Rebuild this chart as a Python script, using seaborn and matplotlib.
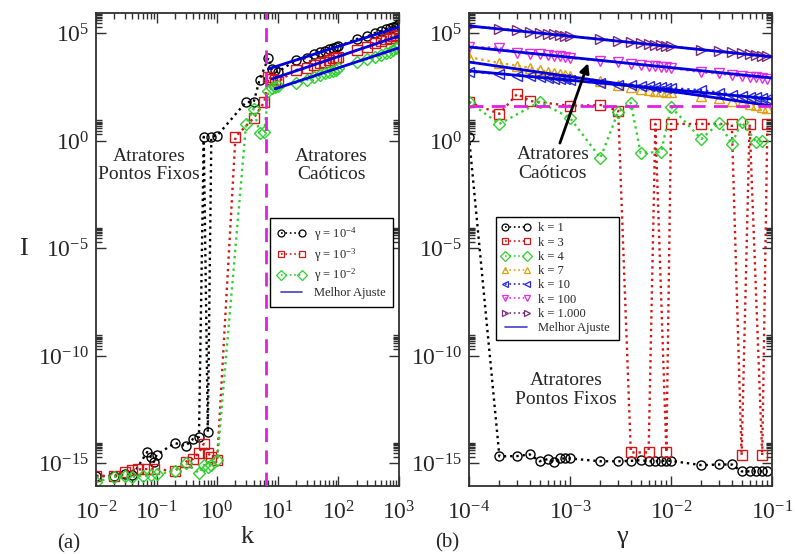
import numpy as np
import pandas as pd
import matplotlib
matplotlib.use("Agg")
import matplotlib.pyplot as plt
from matplotlib.ticker import FixedLocator, FuncFormatter, LogLocator, NullFormatter
from matplotlib.lines import Line2D
import seaborn as sns

sns.set_theme(style="ticks")
plt.rcParams["font.family"] = ["Liberation Serif", "DejaVu Serif"]
plt.rcParams["mathtext.fontset"] = "custom"
plt.rcParams["mathtext.rm"] = "Liberation Serif"
plt.rcParams["mathtext.it"] = "Liberation Serif:italic"
plt.rcParams["mathtext.bf"] = "Liberation Serif:bold"

# ---------------- panel (a): I versus k, values given as log10(I) ----------------
k_g4 = [0.01, 0.02, 0.03, 0.04, 0.07, 0.08, 0.09, 0.1, 0.2, 0.3, 0.4, 0.5, 0.6, 0.7,
        0.8, 1.0, 3, 4, 5, 7, 8, 9, 10, 20, 30, 40, 50, 60, 70, 80, 90, 100,
        200, 300, 400, 500, 600, 700, 800, 900, 1000]
logI_g4 = [-15.58, -15.6, -15.5, -15.55, -14.47, -14.7, -14.93, -14.6, -14.05, -14.19,
           -13.86, -13.77, 0.19, -13.55, 0.19, 0.25, 1.81, 1.81, 2.84, 3.86, 3.35, 3.30,
           3.2, 3.77, 3.86, 4.02, 4.12, 4.20, 4.28, 4.32, 4.36, 4.40,
           4.74, 4.86, 5.02, 5.10, 5.20, 5.26, 5.30, 5.36, 5.45]

k_g3 = [0.01, 0.02, 0.03, 0.04, 0.05, 0.07, 0.09, 0.2, 0.3, 0.4, 0.5, 0.6, 0.7, 0.8,
        1.0, 2, 4, 6, 7, 8, 9, 10, 20, 30, 40, 50, 60, 70, 80, 90, 100,
        200, 300, 400, 500, 600, 700, 800, 900, 1000]
logI_g3 = [-15.58, -15.58, -15.4, -15.3, -15.28, -15.26, -15.26, -15.35, -14.93, -14.79,
           -14.51, -14.09, -14.51, -14.7, -14.84, 0.19, 1.07, 1.81, 2.98, 2.88, 2.84,
           2.75, 3.30, 3.40, 3.53, 3.62, 3.67, 3.77, 3.84, 3.88, 3.91,
           4.23, 4.37, 4.56, 4.66, 4.72, 4.80, 4.86, 4.92, 5.00]

k_g2 = [0.01, 0.02, 0.03, 0.04, 0.06, 0.08, 0.1, 0.2, 0.3, 0.5, 0.6, 0.7, 0.8, 1.0,
        3, 4, 5, 6, 7, 8, 9, 10, 20, 30, 40, 50, 60, 70, 80, 90, 100,
        200, 300, 400, 500, 600, 700, 800, 900, 1000]
logI_g2 = [-15.86, -15.63, -15.58, -15.62, -15.58, -15.55, -15.5, -15.35, -14.98, -15.44,
           -15.07, -15.16, -15.07, -14.84, 0.8, 1.5, 0.37, 0.42, 2.32, 2.45, 2.50,
           2.55, 2.70, 2.84, 2.98, 3.07, 3.15, 3.21, 3.27, 3.32, 3.40,
           3.67, 3.80, 3.91, 4.00, 4.09, 4.15, 4.23, 4.30, 4.42]

# best-fit segments for panel (a): [k_start, k_end], [log10 I_start, log10 I_end]
fit_k_a = [[7, 1000], [8, 1000], [9, 1000]]
fit_logI_a = [[3.35, 5.30], [2.88, 4.88], [2.42, 4.33]]
k_critical = 6.5

# ---------------- panel (b): I versus gamma ----------------
gamma = [1e-4, 2e-4, 3e-4, 4e-4, 5e-4, 6e-4, 7e-4, 8e-4, 9e-4,
         1e-3, 2e-3, 3e-3, 4e-3, 5e-3, 6e-3, 7e-3, 8e-3, 9e-3,
         1e-2, 2e-2, 3e-2, 4e-2, 5e-2, 6e-2, 7e-2, 8e-2, 9e-2]
logI_k1 = [0.19, -14.67, -14.66, -14.58, -14.9, -14.8, -14.94, -14.77, -14.77,
           -14.77, -14.9, -14.9, -14.88, -14.85, -14.9, -14.9, -14.88, -14.88,
           -14.88, -15.08, -15.05, -15.05, -15.37, -15.37, -15.37, -15.37, -15.37]
gamma_k3 = [1e-4, 2e-4, 3e-4, 4e-4, 1e-3, 2e-3, 3e-3, 4e-3, 6e-3, 7e-3, 9e-3,
            1e-2, 2e-2, 4e-2, 5e-2, 6e-2, 8e-2, 9e-2]
logI_k3 = [1.81, 1.26, 2.19, 1.86, 1.63, 1.67, 1.40, -14.49, -14.49, 0.79, -14.49,
           0.79, 0.79, 0.79, -14.63, 0.79, -14.63, 0.79]
gamma_k4 = [1e-4, 2e-4, 5e-4, 1e-3, 2e-3, 3e-3, 4e-3, 5e-3, 8e-3, 1e-2, 2e-2,
            3e-2, 4e-2, 5e-2, 7e-2, 8e-2]
logI_k4 = [1.81, 0.79, 1.81, 1.07, -0.79, 1.35, 1.77, -0.56, -0.51, 1.58, 0.09,
           0.84, -0.14, 0.88, -0.05, 0.0]
logI_k7 = [3.90, 3.62, 3.50, 3.40, 3.30, 3.22, 3.16, 3.12, 3.08, 3.02, 2.80, 2.62,
           2.50, 2.40, 2.36, 2.33, 2.30, 2.28, 2.27, 2.10, 1.98, 1.88, 1.80, 1.72,
           1.65, 1.60, 1.55]
logI_k10 = [3.22, 3.12, 3.04, 3.00, 2.96, 2.93, 2.90, 2.88, 2.86, 2.83, 2.68, 2.62,
            2.60, 2.56, 2.54, 2.52, 2.50, 2.48, 2.45, 2.36, 2.25, 2.14, 2.10, 2.06,
            2.02, 1.98, 1.94]
logI_k100 = [4.37, 4.33, 4.10, 4.06, 4.02, 3.98, 3.95, 3.93, 3.90, 3.86, 3.74, 3.66,
             3.58, 3.52, 3.50, 3.47, 3.45, 3.42, 3.40, 3.20, 3.14, 3.06, 3.02, 2.98,
             2.95, 2.93, 2.90]
logI_k1000 = [5.33, 5.22, 5.14, 5.05, 5.02, 4.99, 4.95, 4.93, 4.90, 4.86, 4.74, 4.65,
              4.60, 4.55, 4.50, 4.46, 4.45, 4.43, 4.40, 4.24, 4.17, 4.12, 4.07, 4.03,
              3.99, 3.97, 3.93]

# best-fit segments for panel (b), k = 7, 10, 100, 1000
fit_gamma_b = [1e-4, 1e-1]
fit_logI_b = [[3.67, 1.63], [3.26, 1.95], [4.37, 2.93], [5.35, 3.91]]
logI_threshold = 1.64

labels_a = [r"γ = $10^{-4}$", r"γ = $10^{-3}$", r"γ = $10^{-2}$", "Melhor Ajuste"]
labels_b = ["k = 1", "k = 3", "k = 4", "k = 7", "k = 10", "k = 100", "k = 1.000",
            "Melhor Ajuste"]

BLACK, RED, GREEN = "#000000", "#d01818", "#30d030"
ORANGE, BLUE, MAGENTA, PURPLE = "#e0a010", "#2828d8", "#e030e0", "#7a2a78"
FIT = "#0000e0"
CRIT = "#e020e0"

fig = plt.figure(figsize=(7.95, 5.54), dpi=100)
ax_a = fig.add_axes([96 / 795, 1 - 486 / 554, 303 / 795, 473 / 554])
ax_b = fig.add_axes([469 / 795, 1 - 486 / 554, 303 / 795, 473 / 554])


def draw_series(ax, x, logy, color, marker):
    df = pd.DataFrame({"x": x, "I": 10.0 ** np.asarray(logy, dtype=float)})
    sns.lineplot(data=df, x="x", y="I", ax=ax, color=color, linestyle=":",
                 linewidth=1.7, marker=marker, markersize=6.5,
                 markerfacecolor="none", markeredgecolor=color,
                 markeredgewidth=1.0, estimator=None, sort=False, legend=False)
    return Line2D([], [], color=color, linestyle=":", linewidth=1.2, marker=marker,
                  markersize=5, markerfacecolor="none", markeredgecolor=color,
                  markeredgewidth=0.9)


def draw_fit(ax, x, logy):
    df = pd.DataFrame({"x": x, "I": 10.0 ** np.asarray(logy, dtype=float)})
    sns.lineplot(data=df, x="x", y="I", ax=ax, color=FIT, linewidth=2.0,
                 estimator=None, sort=False, legend=False, zorder=4)


fit_handle = Line2D([], [], color="#4040c8", linewidth=1.2)

# panel (a)
h_a = [draw_series(ax_a, k_g4, logI_g4, BLACK, "o"),
       draw_series(ax_a, k_g3, logI_g3, RED, "s"),
       draw_series(ax_a, k_g2, logI_g2, GREEN, "D")]
for kk, ll in zip(fit_k_a, fit_logI_a):
    draw_fit(ax_a, kk, ll)
ax_a.axvline(k_critical, color=CRIT, linestyle=(0, (5, 3)), linewidth=2.0, zorder=5)

# panel (b)
h_b = [draw_series(ax_b, gamma, logI_k1, BLACK, "o"),
       draw_series(ax_b, gamma_k3, logI_k3, RED, "s"),
       draw_series(ax_b, gamma_k4, logI_k4, GREEN, "D"),
       draw_series(ax_b, gamma, logI_k7, ORANGE, "^"),
       draw_series(ax_b, gamma, logI_k10, BLUE, "<"),
       draw_series(ax_b, gamma, logI_k100, MAGENTA, "v"),
       draw_series(ax_b, gamma, logI_k1000, PURPLE, ">")]
for ll in fit_logI_b:
    draw_fit(ax_b, fit_gamma_b, ll)
ax_b.axhline(10 ** logI_threshold, color=CRIT, linestyle=(0, (5, 3)), linewidth=2.0,
             zorder=5)

ylo, yhi = 10 ** -16.05, 10 ** 5.95
y_major = [1e-15, 1e-10, 1e-5, 1e0, 1e5]
y_minor = [m * 10.0 ** e for e in (-15, -10, -5, 0, 5) for m in range(2, 10)]
fmt = FuncFormatter(lambda v, p: r"$10^{%d}$" % int(round(np.log10(v))))

for ax, (xlo, xhi) in ((ax_a, (1e-2, 1e3)), (ax_b, (1e-4, 1e-1))):
    ax.set_xscale("log")
    ax.set_yscale("log")
    ax.set_xlim(xlo, xhi)
    ax.set_ylim(ylo, yhi)
    ax.yaxis.set_major_locator(FixedLocator(y_major))
    ax.yaxis.set_minor_locator(FixedLocator(y_minor))
    ax.yaxis.set_minor_formatter(NullFormatter())
    ax.yaxis.set_major_formatter(fmt)
    ax.xaxis.set_major_locator(LogLocator(base=10, numticks=12))
    ax.xaxis.set_minor_locator(LogLocator(base=10, subs=range(2, 10), numticks=12))
    ax.xaxis.set_minor_formatter(NullFormatter())
    ax.xaxis.set_major_formatter(fmt)
    ax.set_xlabel("")
    ax.set_ylabel("")
    ax.tick_params(which="both", direction="in", top=True, right=True,
                   color="#303030", width=1.0)
    ax.tick_params(which="major", length=7, labelsize=17)
    ax.tick_params(axis="x", which="major", pad=11)
    ax.tick_params(axis="y", which="major", pad=5)
    ax.tick_params(which="minor", length=4)
    for s in ax.spines.values():
        s.set_linewidth(1.3)
        s.set_color("#303030")

# legends
leg_a = ax_a.legend(h_a + [fit_handle], labels_a, loc="upper left",
                    bbox_to_anchor=(0.574, 0.38, 0.406, 0.187), mode="expand",
                    borderaxespad=0, fancybox=False, framealpha=1, edgecolor="black",
                    fontsize=9, numpoints=2, handlelength=2.3, handletextpad=0.6,
                    labelspacing=0.25, borderpad=0.6)
leg_a.get_frame().set_linewidth(1.0)
leg_b = ax_b.legend(h_b + [fit_handle], labels_b, loc="upper left",
                    bbox_to_anchor=(0.089, 0.307, 0.406, 0.262), mode="expand",
                    borderaxespad=0, fancybox=False, framealpha=1, edgecolor="black",
                    fontsize=9, numpoints=2, handlelength=2.3, handletextpad=0.6,
                    labelspacing=0.18, borderpad=0.45)
leg_b.get_frame().set_linewidth(1.0)

# region annotations
note = dict(fontsize=14, ha="center", va="center", linespacing=1.1)
ax_a.text(0.175, 0.677, "Atratores\nPontos Fixos", transform=ax_a.transAxes, **note)
ax_a.text(0.776, 0.677, "Atratores\nCaóticos", transform=ax_a.transAxes, **note)
ax_b.text(0.277, 0.681, "Atratores\nCaóticos", transform=ax_b.transAxes, **note)
ax_b.text(0.320, 0.203, "Atratores\nPontos Fixos", transform=ax_b.transAxes, **note)
ax_b.annotate("", xy=(0.393, 0.894), xytext=(0.300, 0.725),
              xycoords="axes fraction", textcoords="axes fraction",
              arrowprops=dict(arrowstyle="-|>", color="black", lw=2.0,
                              mutation_scale=14, shrinkA=0, shrinkB=0), zorder=6)

# axis labels and panel tags
fig.text(23 / 795, 1 - 249 / 554, "I", fontsize=19, ha="center", va="center")
fig.text(247 / 795, 1 - 537 / 554, "k", fontsize=19, ha="center", va="center")
fig.text(622 / 795, 1 - 537 / 554, "γ", fontsize=19, ha="center", va="center")
fig.text(69 / 795, 1 - 544 / 554, "(a)", fontsize=15, ha="center", va="center")
fig.text(447 / 795, 1 - 543 / 554, "(b)", fontsize=15, ha="center", va="center")

fig.savefig("out.png", dpi=100)
